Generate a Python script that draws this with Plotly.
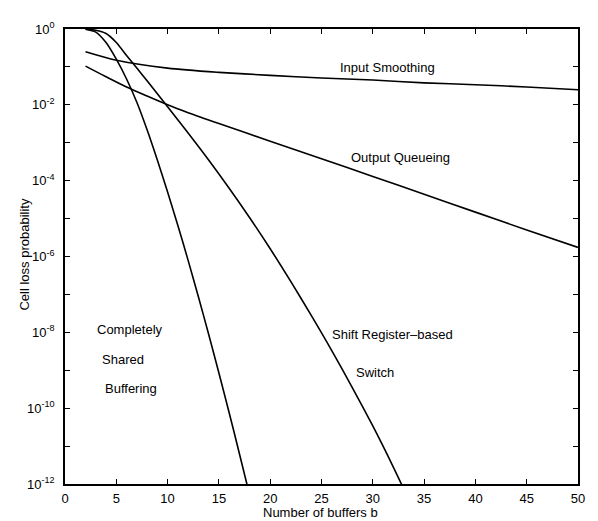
import plotly.graph_objects as go

# Input Smoothing
b_is = [2, 5, 10, 15, 20, 25, 30, 35, 40, 45, 50]
p_is = [2.5e-1, 1.5e-1, 9.3e-2, 7.2e-2, 6.0e-2, 5.1e-2, 4.5e-2, 3.8e-2, 3.4e-2, 2.95e-2, 2.5e-2]

# Output Queueing
b_oq = [2, 4, 6, 8, 10, 12, 15, 20, 25, 30, 35, 40, 45, 50]
p_oq = [1.05e-1, 5.5e-2, 2.95e-2, 1.7e-2, 1.0e-2, 6.2e-3, 3.2e-3, 1.1e-3, 3.8e-4,
        1.29e-4, 4.4e-5, 1.48e-5, 5.0e-6, 1.74e-6]

# Completely Shared Buffering
b_csb = [2, 3, 4, 5, 6, 7, 8, 9, 10, 11, 12, 13, 14, 15, 16, 17, 18]
p_csb = [0.99, 0.83, 0.44, 0.16, 4.8e-2, 1.17e-2, 2.2e-3, 3.5e-4, 5.0e-5, 6.6e-6,
         7.9e-7, 8.7e-8, 8.9e-9, 8.5e-10, 7.6e-11, 6.3e-12, 5.0e-13]

# Shift Register-based Switch
b_sr = [2, 3, 4, 5, 6, 7, 8, 9, 10, 12, 14, 16, 18, 20, 22, 24, 26, 28, 30, 32, 34]
p_sr = [0.99, 0.93, 0.76, 0.44, 0.20, 9.3e-2, 4.3e-2, 1.95e-2, 8.9e-3, 1.8e-3,
        3.5e-4, 6.3e-5, 1.05e-5, 1.6e-6, 2.2e-7, 2.8e-8, 3.3e-9, 3.5e-10,
        3.4e-11, 2.8e-12, 2.0e-13]

x_ticks = [0, 5, 10, 15, 20, 25, 30, 35, 40, 45, 50]
y_exps = list(range(0, -13, -1))

# page body has an 8px margin; the figure is sized so it fills the 598x521 window
W, H = 590, 513
OFF = 8
L, R, T, B = 57, 20, 12, 37
PW, PH = W - L - R, H - T - B

font = dict(family="Liberation Sans, Arial, sans-serif", size=13, color="black")
line = dict(color="black", width=1.6)

fig = go.Figure()
for xs, ys in [(b_is, p_is), (b_oq, p_oq), (b_csb, p_csb), (b_sr, p_sr)]:
    fig.add_trace(go.Scatter(x=xs, y=ys, mode="lines", line=line,
                             line_shape="spline", line_smoothing=0.8,
                             showlegend=False, hoverinfo="skip"))

ytv = [10.0 ** e for e in y_exps]
ytt = [("10<sup>%d</sup>" % e) if e % 2 == 0 else "" for e in y_exps]

fig.update_layout(
    width=W, height=H,
    margin=dict(l=L, r=R, t=T, b=B, pad=0),
    paper_bgcolor="white", plot_bgcolor="white",
    font=font,
)
fig.update_xaxes(range=[0, 50], tickvals=x_ticks, ticks="inside", ticklen=5,
                 tickwidth=1, tickcolor="black",
                 showline=True, linecolor="black", linewidth=1.6, mirror="ticks",
                 showgrid=False, zeroline=False, tickfont=font,
                 ticklabelstandoff=2)
fig.update_yaxes(type="log", range=[-12, 0], tickvals=ytv, ticktext=ytt,
                 ticks="inside", ticklen=5, tickwidth=1, tickcolor="black",
                 showline=True, linecolor="black",
                 linewidth=1.6, mirror="ticks", showgrid=False, zeroline=False,
                 tickfont=font, ticklabelstandoff=6)


def px(sx):
    return (sx - OFF - L) / PW


def py(sy):
    return 1 - (sy - OFF - T) / PH


anns = [
    ("Input Smoothing", 387, 59),
    ("Output Queueing", 400, 151),
    ("Completely", 130, 326),
    ("Shared", 123, 357),
    ("Buffering", 131, 387),
    ("Shift Register\u2013based", 392, 332),
    ("Switch", 375, 370),
]
for text, sx, sy in anns:
    fig.add_annotation(text=text, xref="paper", yref="paper",
                       x=px(sx), y=py(sy), showarrow=False,
                       xanchor="center", yanchor="middle", font=font)

# axis titles
fig.add_annotation(text="Number of buffers b", xref="paper", yref="paper",
                   x=px(320), y=py(513), showarrow=False,
                   xanchor="center", yanchor="middle", font=font)
fig.add_annotation(text="Cell loss probability", xref="paper", yref="paper",
                   x=px(25), y=py(250), showarrow=False, textangle=-90,
                   xanchor="center", yanchor="middle", font=font)

fig.write_html("out.html")
